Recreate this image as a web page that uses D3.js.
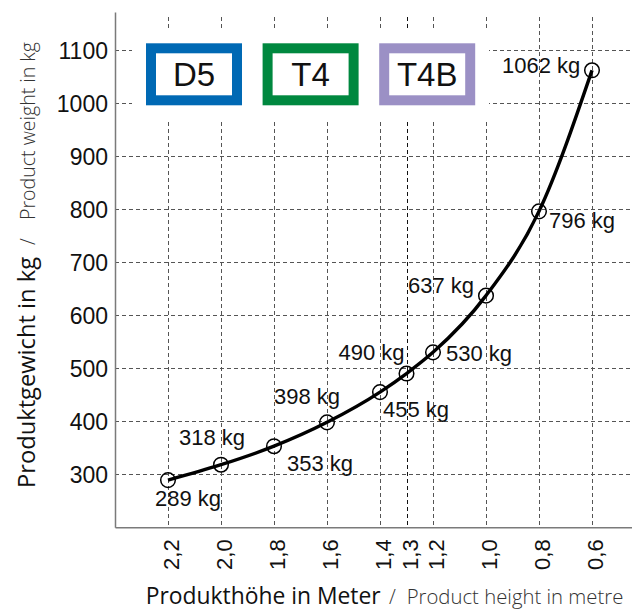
<!DOCTYPE html>
<html>
<head>
    <title>Produktgewicht</title>
    <meta charset="utf-8" />
    <script src="https://cdn.jsdelivr.net/npm/d3@7"></script>
    <style>
        body { margin: 0; background: #fff; }
        svg { display: block; }
    </style>
</head>
<body>
    <script>
        // product height (m) and weight (kg)
        var heights = [2.2, 2.0, 1.8, 1.6, 1.4, 1.3, 1.2, 1.0, 0.8, 0.6];
        var weights = [289, 318, 353, 398, 455, 490, 530, 637, 796, 1062];
        var yTicks = [300, 400, 500, 600, 700, 800, 900, 1000, 1100];
        var models = ["D5", "T4", "T4B"];
        var modelColors = ["#0069b4", "#00883f", "#9b90c5"];

        // where each value label sits relative to its point
        var labelOffsets = [
            [-13, 26], [-42, -20], [13, 25], [-53, -18], [3, 25],
            [-68, -14], [13, 9], [-78, -3], [10, 17], [-90, 3]
        ];

        var width = 632;
        var height = 611;

        var svg = d3.select("body")
            .append("svg")
            .attr("width", width)
            .attr("height", height);

        var x = d3.scaleLinear().domain([2.4, 0.4]).range([115, 645]);
        var y = d3.scaleLinear().domain([200, 1172]).range([527.3, 12]);

        var comma = function (v) { return v.toFixed(1).replace(".", ","); };

        // grid
        var grid = svg.append("g")
            .attr("stroke", "#555")
            .attr("stroke-width", 1)
            .attr("stroke-dasharray", "4,3");

        grid.selectAll(".hgrid").data(yTicks).enter()
            .append("line")
            .attr("x1", 115).attr("x2", width)
            .attr("y1", function (d) { return Math.round(y(d)) + 0.5; })
            .attr("y2", function (d) { return Math.round(y(d)) + 0.5; });

        grid.selectAll(".vgrid").data(heights).enter()
            .append("line")
            .attr("x1", function (d) { return Math.round(x(d)) + 0.5; })
            .attr("x2", function (d) { return Math.round(x(d)) + 0.5; })
            .attr("y1", 17).attr("y2", 527)
            .attr("stroke", function (d) { return d === 1.3 ? "#111" : null; });

        // axes
        var yAxis = d3.axisLeft(y).tickValues(yTicks).tickSize(0).tickPadding(7).tickFormat(d3.format("d"));
        var gy = svg.append("g").attr("transform", "translate(115,0)").call(yAxis);
        gy.select(".domain").attr("stroke", "#7a7a7a").attr("stroke-width", 1.5);
        gy.selectAll("text")
            .attr("font-family", "Liberation Sans, Arial, sans-serif")
            .attr("font-size", 23)
            .attr("fill", "#111")
            .attr("dy", "0.37em");

        var xAxis = d3.axisBottom(x).tickValues(heights).tickSize(0).tickFormat(comma);
        var gx = svg.append("g").attr("transform", "translate(0,527.3)").call(xAxis);
        gx.select(".domain").attr("stroke", "#7a7a7a").attr("stroke-width", 1.5);
        gx.selectAll("text")
            .attr("font-family", "Liberation Sans, Arial, sans-serif")
            .attr("font-size", 22)
            .attr("fill", "#111")
            .attr("text-anchor", "end")
            .attr("y", 0).attr("dy", 0)
            .attr("transform", "translate(10.5,12) rotate(-90)");

        // legend boxes on white ground
        svg.append("rect")
            .attr("x", 132).attr("y", 29)
            .attr("width", 357).attr("height", 91)
            .attr("fill", "#fff");

        var boxes = svg.selectAll(".model").data(models).enter()
            .append("g")
            .attr("class", "model")
            .attr("transform", function (d, i) { return "translate(" + (146 + i * 116.6) + ",43.3)"; });

        boxes.append("rect")
            .attr("x", 5).attr("y", 5)
            .attr("width", 86).attr("height", 52)
            .attr("fill", "#fff")
            .attr("stroke", function (d, i) { return modelColors[i]; })
            .attr("stroke-width", 10);

        boxes.append("text")
            .attr("x", 48).attr("y", 42.5)
            .attr("text-anchor", "middle")
            .attr("font-family", "Liberation Sans, Arial, sans-serif")
            .attr("font-size", 33)
            .attr("fill", "#111")
            .text(function (d) { return d; });

        // curve
        var points = heights.map(function (h, i) { return [h, weights[i]]; });

        var line = d3.line()
            .x(function (d) { return x(d[0]); })
            .y(function (d) { return y(d[1]); })
            .curve(d3.curveMonotoneX);

        svg.append("path")
            .datum(points.slice().reverse())
            .attr("d", line)
            .attr("fill", "none")
            .attr("stroke", "#000")
            .attr("stroke-width", 3.4);

        svg.selectAll(".pt").data(points).enter()
            .append("circle")
            .attr("cx", function (d) { return x(d[0]); })
            .attr("cy", function (d) { return y(d[1]); })
            .attr("r", 7.3)
            .attr("fill", "none")
            .attr("stroke", "#000")
            .attr("stroke-width", 1.5);

        svg.selectAll(".lbl").data(points).enter()
            .append("text")
            .attr("x", function (d, i) { return x(d[0]) + labelOffsets[i][0]; })
            .attr("y", function (d, i) { return y(d[1]) + labelOffsets[i][1]; })
            .attr("font-family", "Liberation Sans, Arial, sans-serif")
            .attr("font-size", 22)
            .attr("fill", "#111")
            .text(function (d) { return d[1] + " kg"; });

        // axis titles
        var xt = svg.append("text")
            .attr("x", 145.7).attr("y", 604)
            .attr("font-family", "Open Sans, sans-serif")
            .attr("fill", "#111");
        xt.append("tspan").attr("font-size", 23).attr("textLength", 235).attr("lengthAdjust", "spacingAndGlyphs")
            .text("Produkthöhe in Meter");
        xt.append("tspan").attr("x", 389).attr("font-size", 20).attr("font-weight", 300).attr("fill", "#333")
            .text("/");
        xt.append("tspan").attr("x", 406.7).attr("font-size", 21).attr("font-weight", 300).attr("fill", "#333")
            .attr("textLength", 216.6).attr("lengthAdjust", "spacingAndGlyphs")
            .text("Product height in metre");

        var yt = svg.append("text")
            .attr("transform", "translate(35,488) rotate(-90)")
            .attr("font-family", "Open Sans, sans-serif")
            .attr("fill", "#111");
        yt.append("tspan").attr("font-size", 23).attr("textLength", 231).attr("lengthAdjust", "spacingAndGlyphs")
            .text("Produktgewicht in kg");
        yt.append("tspan").attr("x", 243).attr("font-size", 20).attr("font-weight", 300).attr("fill", "#333")
            .text("/");
        yt.append("tspan").attr("x", 268).attr("font-size", 21).attr("font-weight", 300).attr("fill", "#333")
            .attr("textLength", 178).attr("lengthAdjust", "spacingAndGlyphs")
            .text("Product weight in kg");
    </script>
</body>
</html>
